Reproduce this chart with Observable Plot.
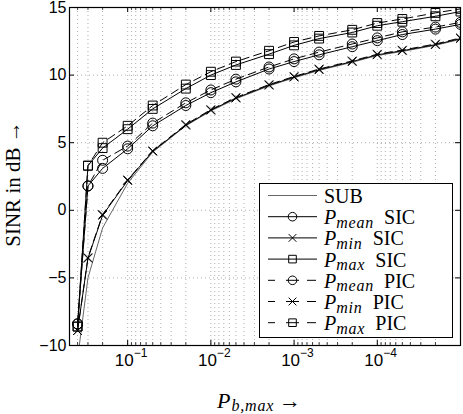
<!DOCTYPE html>
<html>
<head>
<meta charset="utf-8">
<script src="https://cdn.jsdelivr.net/npm/d3@7"></script>
<script src="https://cdn.jsdelivr.net/npm/@observablehq/plot@0.6"></script>
<style>
  html, body { margin: 0; padding: 0; background: #fff; }
  svg { display: block; }
</style>
</head>
<body>
<div id="chart"></div>
<script>
// Maximum bit error probability P_b,max (log axis, decreasing to the right)
const pb = [0.4, 0.3, 0.2, 0.1, 0.05, 0.02, 0.01, 0.005, 0.002, 0.001, 5e-4, 2e-4, 1e-4, 5e-5, 2e-5, 1e-5];

// SINR in dB for each scheme
const sub     = [-11.0, -5.0, -1.3, 2.0, 4.3, 6.25, 7.35, 8.25, 9.2, 9.8, 10.35, 10.95, 11.45, 11.75, 12.2, 12.65];
const meanSIC = [-8.4, 1.8, 3.1, 4.55, 6.25, 7.75, 8.7, 9.5, 10.45, 11.0, 11.5, 12.1, 12.55, 13.0, 13.4, 13.75];
const minSIC  = [-8.9, -3.55, -0.37, 2.2, 4.36, 6.29, 7.4, 8.3, 9.25, 9.85, 10.4, 11.0, 11.5, 11.8, 12.25, 12.7];
const maxSIC  = [-8.6, 3.3, 4.6, 6.0, 7.5, 9.0, 10.0, 10.75, 11.55, 12.2, 12.7, 13.15, 13.65, 13.95, 14.35, 14.7];
const meanPIC = [-8.4, 1.8, 3.7, 4.75, 6.45, 7.95, 8.9, 9.7, 10.6, 11.2, 11.7, 12.3, 12.75, 13.2, 13.55, 13.9];
const minPIC  = [-8.9, -3.5, -0.3, 2.25, 4.4, 6.35, 7.45, 8.35, 9.3, 9.9, 10.45, 11.05, 11.55, 11.85, 12.3, 12.75];
const maxPIC  = [-8.6, 3.3, 5.0, 6.25, 7.75, 9.3, 10.25, 11.0, 11.8, 12.45, 12.9, 13.35, 13.85, 14.15, 14.6, 14.9];

// Axis ticks
const xDecades = [1e-1, 1e-2, 1e-3, 1e-4];
const xExponents = ["−1", "−2", "−3", "−4"];
const yTicks = [-10, -5, 0, 5, 10, 15];

// Legend names
const legendNames = [
  {main: "SUB"},
  {p: "P", sub: "mean", tag: "SIC"},
  {p: "P", sub: "min", tag: "SIC"},
  {p: "P", sub: "max", tag: "SIC"},
  {p: "P", sub: "mean", tag: "PIC"},
  {p: "P", sub: "min", tag: "PIC"},
  {p: "P", sub: "max", tag: "PIC"}
];

const series = [
  {values: sub,     symbol: null,     r: 0,   dashed: false, stroke: "#666"},
  {values: meanSIC, symbol: "circle", r: 5,   dashed: false, stroke: "black"},
  {values: minSIC,  symbol: "times",  r: 4,   dashed: false, stroke: "black"},
  {values: maxSIC,  symbol: "square", r: 5,   dashed: false, stroke: "black"},
  {values: meanPIC, symbol: "circle", r: 5,   dashed: true,  stroke: "black"},
  {values: minPIC,  symbol: "times",  r: 4,   dashed: true,  stroke: "black"},
  {values: maxPIC,  symbol: "square", r: 5,   dashed: true,  stroke: "black"}
];

// Dotted grid: every 1..9 × 10^n inside the domain
const gridX = [];
for (let e = -6; e <= 0; e++) {
  for (let k = 1; k <= 9; k++) {
    const v = k * Math.pow(10, e);
    if (v >= 1e-5 * 0.999 && v <= 0.5 * 1.001) gridX.push(v);
  }
}
const minorX = gridX.filter(v => !xDecades.some(d => Math.abs(v / d - 1) < 1e-6));
const gridY = [-5, 0, 5, 10];

const W = 463, H = 414;
const mL = 69, mR = 3, mT = 7, mB = 69;
const fw = W - mL - mR, fh = H - mT - mB;

const lineMarks = [];
const dotMarks = [];
for (const s of series) {
  const data = pb.map((x, i) => ({x, y: s.values[i]}));
  lineMarks.push(Plot.line(data, {
    x: "x", y: "y", stroke: s.stroke, strokeWidth: 1,
    strokeDasharray: s.dashed ? "8,5" : null, clip: true
  }));
  if (s.symbol) {
    dotMarks.push(Plot.dot(data, {
      x: "x", y: "y", symbol: s.symbol, r: s.r, stroke: s.stroke,
      fill: "none", strokeWidth: 1, clip: true
    }));
  }
}

const fmtY = d => d < 0 ? "−" + Math.abs(d) : String(d);

const chart = Plot.plot({
  width: W, height: H,
  marginLeft: mL, marginRight: mR, marginTop: mT, marginBottom: mB,
  x: {type: "log", domain: [0.5, 1e-5], axis: null},
  y: {domain: [-10, 15], axis: null},
  style: {background: "white", fontFamily: "Liberation Sans, Arial, sans-serif", overflow: "visible"},
  marks: [
    Plot.ruleX(gridX, {stroke: "#8c8c8c", strokeWidth: 0.7, strokeDasharray: "1,3"}),
    Plot.ruleY(gridY, {stroke: "#8c8c8c", strokeWidth: 0.7, strokeDasharray: "1,3"}),
    ...lineMarks,
    ...dotMarks,
    // inward ticks
    Plot.ruleX(xDecades, {stroke: "black", insetTop: fh - 5}),
    Plot.ruleX(xDecades, {stroke: "black", insetBottom: fh - 5}),
    Plot.ruleX(minorX, {stroke: "black", strokeWidth: 0.7, insetTop: fh - 3}),
    Plot.ruleX(minorX, {stroke: "black", strokeWidth: 0.7, insetBottom: fh - 3}),
    Plot.ruleY(yTicks, {stroke: "black", insetRight: fw - 5}),
    Plot.ruleY(yTicks, {stroke: "black", insetLeft: fw - 5}),
    Plot.frame({stroke: "black", strokeWidth: 1.2}),
    // tick labels
    Plot.text(yTicks, {y: d => d, frameAnchor: "left", text: fmtY, textAnchor: "end", dx: -3, fontSize: 16}),
    Plot.text(xDecades, {x: d => d, frameAnchor: "bottom", text: () => "10", textAnchor: "end", dx: 6, dy: 20, fontSize: 17}),
    Plot.text(xDecades, {x: d => d, frameAnchor: "bottom", text: (d, i) => xExponents[i], textAnchor: "start", dx: 6, dy: 11, fontSize: 12})
  ]
});

document.getElementById("chart").appendChild(chart);

// Axis titles and legend
const svg = d3.select(chart);
const serif = "Liberation Serif, Times New Roman, serif";

const xt = svg.append("text")
  .attr("x", 217).attr("y", 408).attr("text-anchor", "start")
  .attr("font-family", serif).attr("font-size", 22).attr("fill", "black");
xt.append("tspan").attr("font-style", "italic").text("P");
xt.append("tspan").attr("font-style", "italic").attr("font-size", 16).attr("dy", 3).attr("dx", 1)
  .attr("letter-spacing", 0.8).text("b,max");
xt.append("tspan").attr("dy", -3).attr("dx", 5).text("→");

svg.append("text")
  .attr("transform", "translate(20,184) rotate(-90)")
  .attr("text-anchor", "middle")
  .attr("font-family", serif).attr("font-size", 21).attr("fill", "black")
  .text("SINR in dB →");

const lg = svg.append("g");
lg.append("rect")
  .attr("x", 259.5).attr("y", 183.5).attr("width", 193).attr("height", 154)
  .attr("fill", "white").attr("stroke", "black").attr("stroke-width", 1);

const symbolTypes = {circle: d3.symbolCircle, times: d3.symbolTimes, square: d3.symbolSquare};
series.forEach((s, i) => {
  const cy = 195.5 + i * 21.2;
  const x0 = 268, x1 = 317, xm = 292.5;
  const segs = s.dashed ? [[x0, 275], [286, 299], [307, 316]] : [[x0, x1]];
  for (const [a, b] of segs) {
    lg.append("line").attr("x1", a).attr("x2", b).attr("y1", cy).attr("y2", cy)
      .attr("stroke", s.stroke).attr("stroke-width", 1);
  }
  if (s.symbol) {
    const rr = s.symbol === "times" ? 3.6 : 4.3;
    lg.append("path")
      .attr("transform", `translate(${xm},${cy})`)
      .attr("d", d3.symbol(symbolTypes[s.symbol], Math.PI * rr * rr)())
      .attr("fill", "none").attr("stroke", "black").attr("stroke-width", 1);
  }
  const n = legendNames[i];
  const t = lg.append("text").attr("x", 324).attr("y", cy + 7.5).attr("text-anchor", "start")
    .attr("font-family", serif).attr("font-size", 20).attr("fill", "black");
  if (n.main) {
    t.text(n.main);
  } else {
    t.append("tspan").attr("font-style", "italic").text(n.p);
    t.append("tspan").attr("font-style", "italic").attr("font-size", 16)
      .attr("letter-spacing", 0.8).attr("dy", 3.5).text(n.sub);
    t.append("tspan").attr("dy", -3.5).attr("dx", 10).attr("letter-spacing", 0).text(n.tag);
  }
});
</script>
</body>
</html>
